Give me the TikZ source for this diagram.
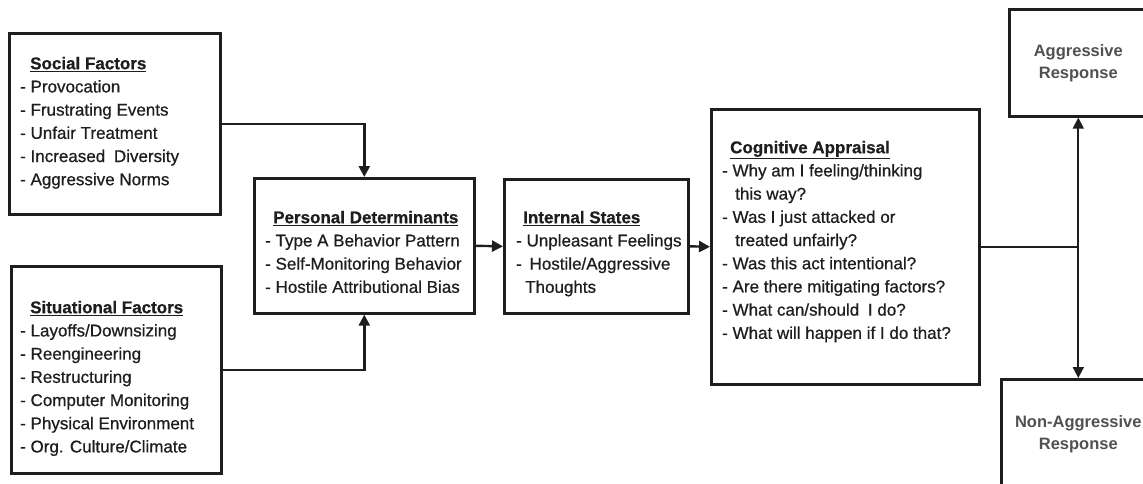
\documentclass[tikz,border=0pt]{standalone}
\usepackage{fontspec}
\setmainfont{Liberation Sans}
\newfontfamily\listfont{Liberation Sans}[FakeBold=0.7]
\usetikzlibrary{arrows.meta}
\definecolor{ink}{HTML}{1E1E1E}
\definecolor{soft}{HTML}{505050}
\newcommand\mkhead[1]{\textbf{\underline{#1}}}
\begin{document}
\begin{tikzpicture}[x=1pt,y=-1pt,
  box/.style={draw=ink, line width=2.6pt, rectangle, inner sep=0pt, anchor=north west},
  list/.style={anchor=north west, align=left, inner sep=0pt, text=ink,
    font=\listfont\fontsize{17}{23.2}\selectfont},
  resp/.style={box, align=center, text=soft,
    font=\bfseries\fontsize{16.5}{22}\selectfont},
  plain/.style={draw=ink, line width=2.4pt},
  link/.style={plain, -{Triangle[length=11pt,width=11pt]}},
  thin/.style={line width=1.8pt}]
\useasboundingbox (0,0) rectangle (1143,483);
\clip (0,0) rectangle (1143,483);

% boxes
\node[box, minimum width=211, minimum height=181] (social) at (8,32) {};
\node[box, minimum width=210, minimum height=207] (situ) at (10,265) {};
\node[box, minimum width=220, minimum height=135] (pers) at (253,177) {};
\node[box, minimum width=184, minimum height=134] (inner) at (503,178) {};
\node[box, minimum width=268, minimum height=275] (cogn) at (710,108) {};
\node[resp, minimum width=138, minimum height=107] (aggr) at (1008,8) {Aggressive\\Response};
\node[resp, minimum width=154, minimum height=109] (nonagg) at (1000,378) {Non-Aggressive\\Response};

% box contents
\node[list] (socialtxt) at (20,56.7) {\hspace*{10pt}\mkhead{Social Factors}\\
- Provocation\\
- Frustrating Events\\
- Unfair Treatment\\
- Increased \hspace{4pt}Diversity\\
- Aggressive Norms};

\node[list] (situtxt) at (20,300.7) {\hspace*{10pt}\mkhead{Situational Factors}\\
- Layoffs/Downsizing\\
- Reengineering\\
- Restructuring\\
- Computer Monitoring\\
- Physical Environment\\
- Org. Culture/Climate};

\node[list] (perstxt) at (265,210.7) {\hspace*{8pt}\mkhead{Personal Determinants}\\
- Type A Behavior Pattern\\
- Self-Monitoring Behavior\\
- Hostile Attributional Bias};

\node[list] (innertxt) at (516,210.7) {\hspace*{7pt}\mkhead{Internal States}\\
- Unpleasant Feelings\\
- \hspace{3pt}Hostile/Aggressive\\
\hspace*{9pt}Thoughts};

\node[list] (cogntxt) at (722,140.7) {\hspace*{8pt}\mkhead{Cognitive Appraisal}\\
- Why am I feeling/thinking\\
\hspace*{13pt}this way?\\
- Was I just attacked or\\
\hspace*{13pt}treated unfairly?\\
- Was this act intentional?\\
- Are there mitigating factors?\\
- What can/should \hspace{4pt}I do?\\
- What will happen if I do that?};

% connectors
\draw[link] (social.east) -| (pers.north);
\draw[link] (situ.east) -| (pers.south);
\draw[link] (pers.east) -- (inner.west);
\draw[link] (inner.east) -- (cogn.west);
\coordinate (split) at (cogn.east -| aggr.south);
\draw[plain, thin] (cogn.east) -- (split);
\draw[link, thin] (split) -- (aggr.south);
\draw[link, thin] (split) -- (nonagg.north);
\end{tikzpicture}
\end{document}
